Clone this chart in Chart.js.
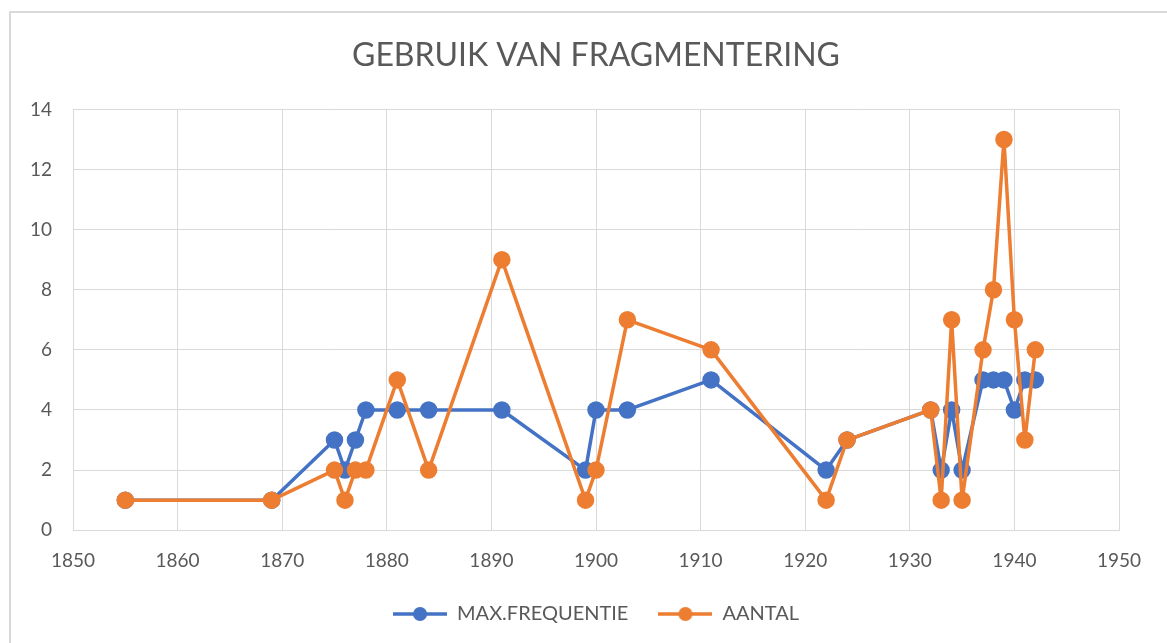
<!DOCTYPE html>
<html>
<head>
<meta charset="utf-8">
<script src="https://cdn.jsdelivr.net/npm/chart.js@4"></script>
<style>
html,body{margin:0;padding:0;background:#fff;overflow:hidden}
#frame{position:absolute;left:9px;top:11px;width:1200px;height:700px;border:2px solid #d9d9d9}
#wrap{position:absolute;left:0;top:0;width:1167px;height:643px}
</style>
</head>
<body>
<div id="frame"></div>
<div id="wrap"><canvas id="chart"></canvas></div>
<script>
/* DATA */
const years=[1855,1869,1875,1876,1877,1878,1881,1884,1891,1899,1900,1903,1911,1922,1924,1932,1933,1934,1935,1937,1938,1939,1940,1941,1942]
const maxFrequentie=[1,1,3,2,3,4,4,4,4,2,4,4,5,2,3,4,2,4,2,5,5,5,4,5,5]
const aantal=[1,1,2,1,2,2,5,2,9,1,2,7,6,1,3,4,1,7,1,6,8,13,7,3,6]

const xTicks=[1850,1860,1870,1880,1890,1900,1910,1920,1930,1940,1950]
const yTicks=[0,2,4,6,8,10,12,14]

const BLUE="#4472C4"
const ORANGE="#ED7D31"
const TEXT="#595959"
const GRID="#d9d9d9"
const FONT="Lato, 'Open Sans', sans-serif"
const SQUEEZE=17

function points(vals){
return years.map((y,i)=>({x:y,y:vals[i]}))
}

/* legend icon: line with dot */
function legendIcon(color){
const c=document.createElement("canvas")
c.width=54
c.height=16
const g=c.getContext("2d")
g.strokeStyle=color
g.lineWidth=3.5
g.beginPath()
g.moveTo(0,8)
g.lineTo(54,8)
g.stroke()
g.fillStyle=color
g.beginPath()
g.arc(27,8,7,0,Math.PI*2)
g.fill()
return c
}

/* keep the horizontal legend gap but pull the legend closer to the axis */
const legendSqueeze={
id:"legendSqueeze",
afterInit(chart){
const lg=chart.legend
const fit=lg.fit
const draw=lg.draw
lg.fit=function(){
fit.call(this)
this.height-=SQUEEZE
}
lg.draw=function(){
const t=this.top
this.top=t-SQUEEZE
draw.apply(this,arguments)
this.top=t
}
}
}

const ctx=document.getElementById("chart").getContext("2d")

new Chart(ctx,{
type:"scatter",
data:{
datasets:[{
label:"MAX.FREQUENTIE",
data:points(maxFrequentie),
borderColor:BLUE,
backgroundColor:BLUE,
showLine:true,
borderWidth:3.5,
borderJoinStyle:"round",
borderCapStyle:"round",
pointRadius:7,
pointHoverRadius:7,
order:1
},{
label:"AANTAL",
data:points(aantal),
borderColor:ORANGE,
backgroundColor:ORANGE,
showLine:true,
borderWidth:3.5,
borderJoinStyle:"round",
borderCapStyle:"round",
pointRadius:7,
pointHoverRadius:7,
order:0
}]
},
options:{
responsive:true,
maintainAspectRatio:false,
animation:false,
layout:{padding:{left:0,right:48,top:0,bottom:9}},
plugins:{
title:{
display:true,
fullSize:false,
text:"GEBRUIK VAN FRAGMENTERING",
color:TEXT,
font:{family:FONT,size:32,weight:"normal"},
padding:{top:36,bottom:35}
},
tooltip:{enabled:false},
legend:{
position:"bottom",
fullSize:false,
labels:{
usePointStyle:true,
pointStyleWidth:54,
padding:30,
color:TEXT,
font:{family:FONT,size:20},
generateLabels(chart){
return chart.data.datasets.map((ds,i)=>({
text:ds.label,
pointStyle:legendIcon(ds.borderColor),
fillStyle:ds.borderColor,
strokeStyle:ds.borderColor,
lineWidth:0,
hidden:false,
fontColor:TEXT,
datasetIndex:i
}))
}
}
}
},
scales:{
x:{
type:"linear",
min:1850,
max:1950,
afterBuildTicks(scale){scale.ticks=xTicks.map(v=>({value:v}))},
grid:{color:GRID,drawTicks:false},
border:{color:GRID},
ticks:{color:TEXT,padding:19,font:{family:FONT,size:19},callback:v=>String(v)}
},
y:{
min:0,
max:14,
afterBuildTicks(scale){scale.ticks=yTicks.map(v=>({value:v}))},
afterFit(scale){scale.width=73},
grid:{color:GRID,drawTicks:false},
border:{display:false},
ticks:{color:TEXT,padding:21,font:{family:FONT,size:19}}
}
}
},
plugins:[legendSqueeze]
})
</script>
</body>
</html>
